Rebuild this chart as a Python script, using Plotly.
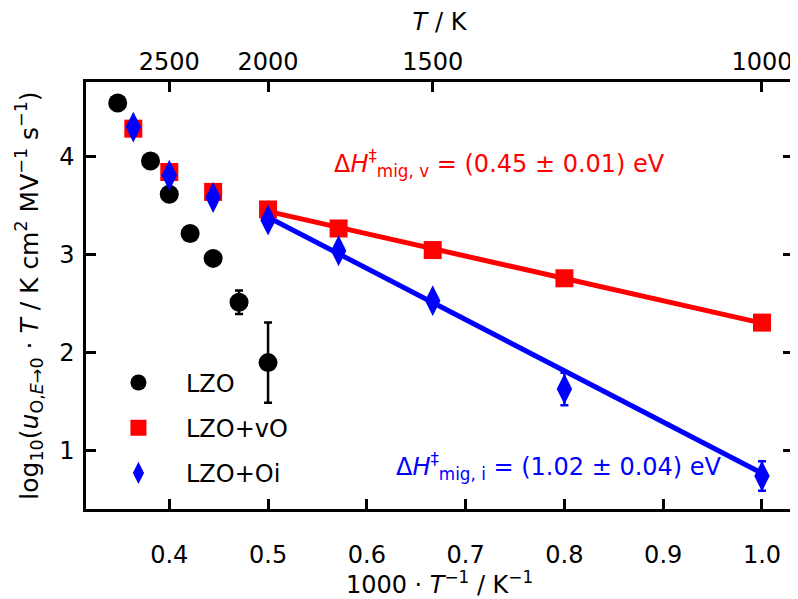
import numpy as np
import plotly.graph_objects as go

# 1000/T positions (K^-1)
x_lzo = [0.3478, 0.3810, 0.4000, 0.4211, 0.4444, 0.4706, 0.5000]
y_lzo = [4.543, 3.952, 3.613, 3.213, 2.959, 2.511, 1.896]
e_lzo = [0.03, 0.03, 0.03, 0.03, 0.03, 0.12, 0.41]

x_def = [0.3636, 0.4000, 0.4444, 0.5000, 0.5714, 0.6667, 0.8000, 1.0000]
y_vo = [4.282, 3.840, 3.637, 3.458, 3.264, 3.044, 2.756, 2.304]
e_vo = [0.05, 0.05, 0.04, 0.04, 0.04, 0.04, 0.04, 0.04]
y_oi = [4.298, 3.807, 3.580, 3.349, 3.037, 2.528, 1.627, 0.739]
e_oi = [0.05, 0.05, 0.05, 0.04, 0.04, 0.05, 0.165, 0.15]

temps_top = [2500, 2000, 1500, 1000]

FONT = "DejaVu Sans"
FS = 24

# Arrhenius fits on the low temperature part (1000/T >= 0.5)
xd = np.array(x_def)
mask = xd >= 0.5
p_vo = np.polyfit(xd[mask], np.array(y_vo)[mask], 1, w=1 / np.array(e_vo)[mask])
p_oi = np.polyfit(xd[mask], np.array(y_oi)[mask], 1, w=1 / np.array(e_oi)[mask])
xf = np.array([0.5, 1.0])

fig = go.Figure()

fig.add_trace(go.Scatter(x=xf, y=np.polyval(p_vo, xf), mode='lines',
                         line=dict(color='#ff0000', width=5), showlegend=False))
fig.add_trace(go.Scatter(x=xf, y=np.polyval(p_oi, xf), mode='lines',
                         line=dict(color='#0000ff', width=5), showlegend=False))

fig.add_trace(go.Scatter(x=x_lzo, y=y_lzo, mode='markers', name='LZO',
                         legendgroup='a',
                         marker=dict(symbol='circle', size=19, color='black'),
                         error_y=dict(array=e_lzo, color='black', thickness=2.5, width=4)))
fig.add_trace(go.Scatter(x=x_def, y=y_vo, mode='markers', name='LZO+vO',
                         legendgroup='b',
                         marker=dict(symbol='square', size=18, color='#ff0000'),
                         error_y=dict(array=e_vo, color='#ff0000', thickness=2.5, width=4)))
fig.add_trace(go.Scatter(x=x_def, y=y_oi, mode='markers', name='LZO+Oi',
                         legendgroup='c',
                         marker=dict(symbol='diamond-tall', size=22, color='#0000ff'),
                         error_y=dict(array=e_oi, color='#0000ff', thickness=2.5, width=4)))

# dummy trace to carry the top temperature axis
fig.add_trace(go.Scatter(x=[1000 / t for t in temps_top], y=[None] * len(temps_top),
                         xaxis='x2', showlegend=False, hoverinfo='skip'))

xr = [0.3157, 1.0314]
ax_common = dict(showline=True, linecolor='black', linewidth=2.5, ticks='inside',
                 ticklen=10, tickwidth=2.5, tickcolor='black', showgrid=False,
                 zeroline=False, automargin=False,
                 tickfont=dict(family=FONT, size=FS, color='black'))

sp = '\u00a0'
ytitle = ('log<sub>10</sub>(<i>u</i><sub>O,<i>E</i>→0</sub>' + sp + '·' + sp + '<i>T</i>' + sp + '/' + sp
          + 'K' + sp + 'cm<sup>2</sup>' + sp + 'MV<sup>−1</sup>' + sp + 's<sup>−1</sup>)')

# page body adds an 8 px offset, so the figure is 8 px smaller and margins compensate
fig.update_layout(
    width=790, height=591,
    margin=dict(l=78, r=5, t=74, b=90),
    plot_bgcolor='white', paper_bgcolor='white',
    font=dict(family=FONT, size=FS, color='black'),
    xaxis=dict(range=xr, tickvals=[0.4, 0.5, 0.6, 0.7, 0.8, 0.9, 1.0],
               ticktext=['0.4', '0.5', '0.6', '0.7', '0.8', '0.9', '1.0'],
               mirror=False, ticklabelstandoff=22,
               title=dict(text='1000' + sp + '·' + sp + '<i>T</i><sup>−1</sup>' + sp + '/' + sp + 'K<sup>−1</sup>',
                          font=dict(family=FONT, size=FS), standoff=12),
               **ax_common),
    xaxis2=dict(range=xr, overlaying='x', side='top', anchor='y',
                tickvals=[1000 / t for t in temps_top],
                ticktext=[str(t) for t in temps_top], ticklabelstandoff=0,
                title=dict(text='<i>T</i>' + sp + '/' + sp + 'K', font=dict(family=FONT, size=FS), standoff=34),
                **ax_common),
    yaxis=dict(range=[0.403, 4.758], tickvals=[1, 2, 3, 4], mirror='ticks',
               ticklabelstandoff=4,
               title=dict(text=ytitle, font=dict(family=FONT, size=25), standoff=14),
               **ax_common),
    legend=dict(x=0.007, y=0.348, xanchor='left', yanchor='top',
                bgcolor='rgba(0,0,0,0)', font=dict(family=FONT, size=FS),
                tracegroupgap=11, itemwidth=85, traceorder='grouped'),
    showlegend=True,
)

fig.add_annotation(x=0.5646, y=3.93, xref='x', yref='y', xanchor='left', yanchor='middle',
                   text='Δ<i>H</i><sup>‡</sup><sub>mig, v</sub> = (0.45 ± 0.01) eV',
                   showarrow=False, font=dict(family=FONT, size=FS, color='#ff0000'))
fig.add_annotation(x=0.6274, y=0.84, xref='x', yref='y', xanchor='left', yanchor='middle',
                   text='Δ<i>H</i><sup>‡</sup><sub>mig, i</sub> = (1.02 ± 0.04) eV',
                   showarrow=False, font=dict(family=FONT, size=FS, color='#0000ff'))

fig.write_html("out.html")
